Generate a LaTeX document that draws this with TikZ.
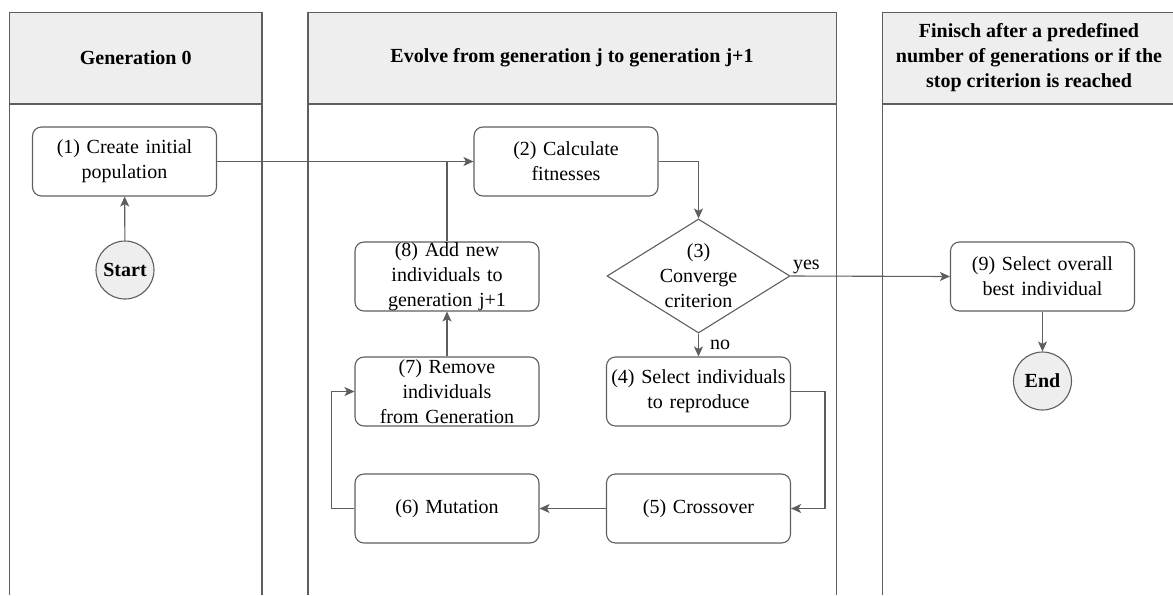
\documentclass[tikz,border=0pt]{standalone}
\usepackage{fontspec}
\setmainfont{Liberation Serif}
\newfontfamily\tnr{Liberation Serif}
\usetikzlibrary{shapes.geometric,arrows.meta}
\definecolor{linec}{HTML}{5E5E5E}
\definecolor{headfill}{HTML}{EEEEEE}
\begin{document}
\begin{tikzpicture}[x=1pt,y=-1pt,
  font=\tnr\fontsize{20}{25}\selectfont,
  lane/.style={draw=linec, line width=1.1pt},
  head/.style={font=\tnr\fontsize{20}{25}\selectfont\bfseries, align=center, inner sep=0pt},
  box/.style={draw=linec, line width=1.1pt, rounded corners=9pt, minimum width=184pt,
    minimum height=69pt, inner sep=0pt, align=center, text width=180pt},
  term/.style={circle, draw=linec, line width=1.1pt, fill=headfill, minimum size=58pt,
    inner sep=0pt, font=\tnr\fontsize{20}{25}\selectfont\bfseries},
  conn/.style={draw=linec, line width=1.1pt},
  arr/.style={conn, -{Stealth[length=10pt,width=9pt,inset=2.5pt]}},
  lbl/.style={inner sep=1pt}
]
\useasboundingbox (0,0) rectangle (1173,595);
% lanes
\fill[headfill] (9.5,12.5) rectangle (262,104);
\fill[headfill] (308,12.5) rectangle (836.5,104);
\fill[headfill] (882.5,12.5) rectangle (1173,104);
\draw[lane] (9.5,595) -- (9.5,12.5) -- (262,12.5) -- (262,595);
\draw[lane] (9.5,104) -- (262,104);
\draw[lane] (308,595) -- (308,12.5) -- (836.5,12.5) -- (836.5,595);
\draw[lane] (308,104) -- (836.5,104);
\draw[lane] (882.5,595) -- (882.5,12.5) -- (1173,12.5);
\draw[lane] (882.5,104) -- (1173,104);
\node[head] (h1) at (135.75,58) {Generation 0};
\node[head] (h2) at (572,58) {Evolve from generation j to generation j+1};
\node[head] (h3) at (1029,58) {Finisch after a predefined\\number of generations or if the\\stop criterion is reached};
% nodes
\node[box] (n1) at (124.5,161.5) {(1) Create initial\\population};
\node[term] (start) at (125,270) {Start};
\node[box] (n2) at (566,161.5) {(2) Calculate\\fitnesses};
\node[diamond, draw=linec, line width=1.1pt, minimum width=183pt, minimum height=114pt, inner sep=0pt] (d) at (698.5,276) {};
\node[align=center, inner sep=0pt] (dt) at (d.center) {(3)\\Converge\\criterion};
\node[box] (n4) at (698.5,391.5) {(4) Select individuals\\to reproduce};
\node[box] (n5) at (698.5,508.5) {(5) Crossover};
\node[box] (n6) at (447,508.5) {(6) Mutation};
\node[box] (n7) at (447,391.5) {(7) Remove\\individuals\\from Generation};
\node[box] (n8) at (447,276.5) {(8) Add new\\individuals to\\generation j+1};
\node[box] (n9) at (1042.5,276.5) {(9) Select overall\\best individual};
\node[term] (end) at (1042.5,381) {End};
% connectors
\draw[arr] (start) -- (n1);
\draw[arr] (n1) -- (n2);
\draw[conn] (n8.north) -- (n8.north |- n1.east);
\draw[arr] (n2.east) -| (d.north);
\draw[arr] (d.east) -- node[pos=0, anchor=south west, inner sep=2pt] {yes} (n9.west);
\draw[arr] (d.south) -- node[midway, anchor=west, xshift=10pt, lbl] {no} (n4.north);
\coordinate (c45) at (825,0);
\draw[arr] (n4.east) -| (c45 |- n5.east) -- (n5.east);
\draw[arr] (n5) -- (n6);
\coordinate (c67) at (331.5,0);
\draw[arr] (n6.west) -| (c67 |- n7.west) -- (n7.west);
\draw[arr] (n7) -- (n8);
\draw[arr] (n9) -- (end);
\end{tikzpicture}
\end{document}
